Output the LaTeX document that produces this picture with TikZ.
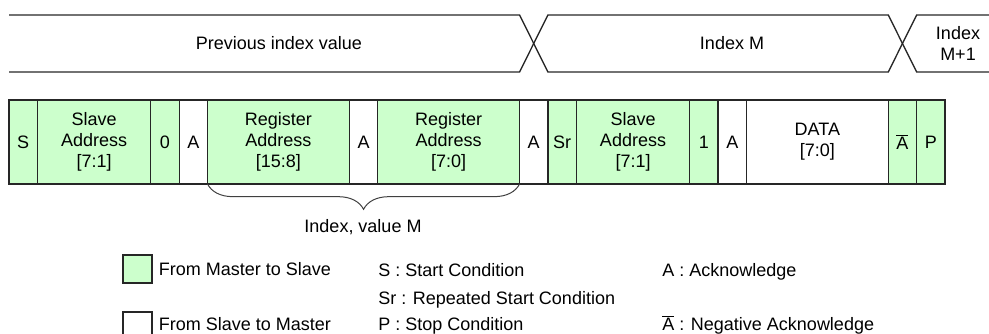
\documentclass[tikz,border=0pt]{standalone}
\usepackage{fontspec}
\setmainfont{Liberation Sans}
\usetikzlibrary{positioning}
\usetikzlibrary{decorations.pathreplacing}

\definecolor{masterfill}{HTML}{CCFFCC}

\begin{document}
\begin{tikzpicture}[x=0.75pt, y=-0.75pt,
                    font=\fontsize{13.5}{16}\selectfont,
                    field/.style={draw=black!85, line width=1pt, outer sep=0pt, inner sep=0pt,
                                  minimum height=63pt, align=center, anchor=west},
                    wide/.style={minimum width=#1*21.273pt},
                    mts/.style={field, fill=masterfill},
                    stm/.style={field, fill=white},
                    bus/.style={draw=black!85, line width=1pt},
                    idxbrace/.style={decorate, decoration={brace, mirror, amplitude=19pt},
                                     draw=black!75, line width=0.75pt},
                    keybox/.style={draw=black!85, line width=1pt, minimum width=21.75pt,
                                   minimum height=21pt, inner sep=0pt},
                    legtext/.style={anchor=base west, inner sep=0pt}]
    \useasboundingbox (0,0) rectangle (989,334);
    \clip (0,0) rectangle (989,334);

    % transfer fields
    \node[mts, wide=1] (start) at (9,142) {S};
    \node[mts, wide=4, right=0pt of start] (saddrw) {Slave\\Address\\{[7:1]}};
    \node[mts, wide=1, right=0pt of saddrw] (wbit) {0};
    \node[stm, wide=1, right=0pt of wbit] (acka) {A};
    \node[mts, wide=5, right=0pt of acka] (rahi) {Register\\Address\\{[15:8]}};
    \node[stm, wide=1, right=0pt of rahi] (ackb) {A};
    \node[mts, wide=5, right=0pt of ackb] (ralo) {Register\\Address\\{[7:0]}};
    \node[stm, wide=1, right=0pt of ralo] (ackc) {A};
    \node[mts, wide=1, right=0pt of ackc] (rstart) {Sr};
    \node[mts, wide=4, right=0pt of rstart] (saddrr) {Slave\\Address\\{[7:1]}};
    \node[mts, wide=1, right=0pt of saddrr] (rbit) {1};
    \node[stm, wide=1, right=0pt of rbit] (ackd) {A};
    \node[stm, wide=5, right=0pt of ackd] (data) {DATA\\{[7:0]}};
    \node[mts, wide=1, right=0pt of data] (nack) {$\overline{\hbox{A}}$};
    \node[mts, wide=1, right=0pt of nack] (stop) {P};

    % index bus
    \draw[bus] (9,15) -- (ralo.east |- 0,15) -- (ackc.east |- 0,72)
        -- (data.east |- 0,72) -- (nack.east |- 0,15) -- (989,15);
    \draw[bus] (9,72) -- (ralo.east |- 0,72) -- (ackc.east |- 0,15)
        -- (data.east |- 0,15) -- (nack.east |- 0,72) -- (989,72);
    \node (prevval) at (279,43.5) {Previous index value};
    \node (idxm) at (732,43.5) {Index M};
    \node[align=center] (idxnext) at (958,43.5) {Index\\M+1};

    \draw[idxbrace] (rahi.south west) -- (ralo.south east);
    \node (idxlabel) at (363,227) {Index, value M};

    % legend
    \node[keybox, fill=masterfill] (keyms) at (137.5,269) {};
    \node[legtext, anchor=west, right=4.5pt of keyms] (txtms) {From Master to Slave};
    \node[keybox, fill=white] (keysm) at (137.5,326) {};
    \node[legtext, anchor=west, right=4.5pt of keysm, yshift=1.5pt] (txtsm) {From Slave to Master};
    \node[legtext] (defs) at (378,276.5) {S : Start Condition};
    \node[legtext] (defsr) at (378,304.5) {Sr : Repeated Start Condition};
    \node[legtext] (defp) at (378,330.5) {P : Stop Condition};
    \node[legtext] (defa) at (662,276.5) {A : Acknowledge};
    \node[legtext] (defna) at (662,330.5) {$\overline{\hbox{A}}$ : Negative Acknowledge};
\end{tikzpicture}
\end{document}
